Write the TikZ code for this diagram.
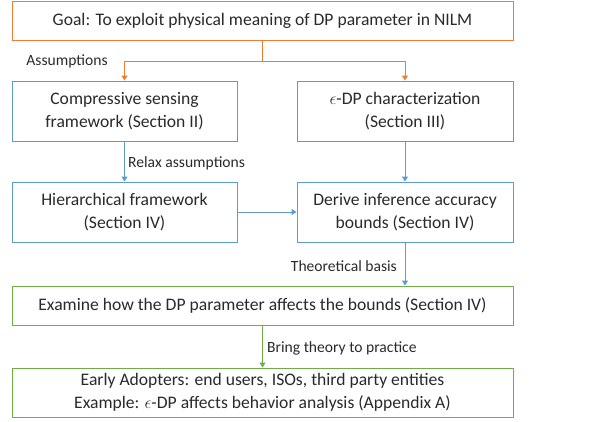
\documentclass[tikz,border=0pt]{standalone}
\usepackage{fontspec}
\setmainfont{Carlito}
\usetikzlibrary{arrows.meta}
\definecolor{oc}{HTML}{ED7D31}
\definecolor{bc}{HTML}{5B9BD5}
\definecolor{gc}{HTML}{70AD47}
\definecolor{tc}{HTML}{2A2A2A}
\begin{document}
\begin{tikzpicture}[x=1pt,y=-1pt,
  box/.style={draw,line width=1pt,fill=white,align=center,text=tc,inner sep=0pt,
    font=\fontsize{17.6}{23}\selectfont},
  lbl/.style={text=tc,font=\fontsize{15.6}{18}\selectfont,inner sep=0pt},
  arr/.style={line width=1pt,-{Triangle[length=5pt,width=6pt]}}]
\useasboundingbox (0,0) rectangle (593,421);
\node[box,draw=oc,minimum width=501pt,minimum height=39pt] (goal) at (262.5,20.5) {Goal: To exploit physical meaning of DP parameter in NILM};
\node[box,draw=bc,minimum width=225pt,minimum height=60pt] (l1) at (124.5,111) {Compressive sensing\\framework (Section II)};
\node[box,draw=bc,minimum width=216pt,minimum height=60pt] (r1) at (405,111) {$\epsilon$-DP characterization\\(Section III)};
\node[box,draw=bc,minimum width=225pt,minimum height=60pt] (l2) at (124.5,212) {Hierarchical framework\\(Section IV)};
\node[box,draw=bc,minimum width=216pt,minimum height=60pt] (r2) at (405,212) {Derive inference accuracy\\bounds (Section IV)};
\node[box,draw=gc,minimum width=501pt,minimum height=39pt] (g1) at (262.5,305.5) {Examine how the DP parameter affects the bounds (Section IV)};
\node[box,draw=gc,minimum width=501pt,minimum height=49pt] (g2) at (262.5,392.5) {Early Adopters: end users, ISOs, third party entities\\Example: $\epsilon$-DP affects behavior analysis (Appendix A)};
\coordinate (j) at (262.5,61);
\draw[oc,line width=1pt] (goal.south) -- (j);
\draw[oc,arr] (j) -| (l1.north);
\draw[oc,arr] (j) -| (r1.north);
\draw[bc,arr] (l1.south) -- (l2.north);
\draw[bc,arr] (r1.south) -- (r2.north);
\draw[bc,arr] (l2.east) -- (r2.west);
\draw[bc,arr] (r2.south) -- (r2.south |- g1.north);
\draw[gc,arr] (g1.south) -- (g2.north);
\node[lbl,anchor=center] (la) at (67,61) {Assumptions};
\node[lbl,anchor=west] (lb) at (128,163) {Relax assumptions};
\node[lbl,anchor=east] (lc) at (397,266) {Theoretical basis};
\node[lbl,anchor=west] (ld) at (267,348) {Bring theory to practice};
\end{tikzpicture}
\end{document}
